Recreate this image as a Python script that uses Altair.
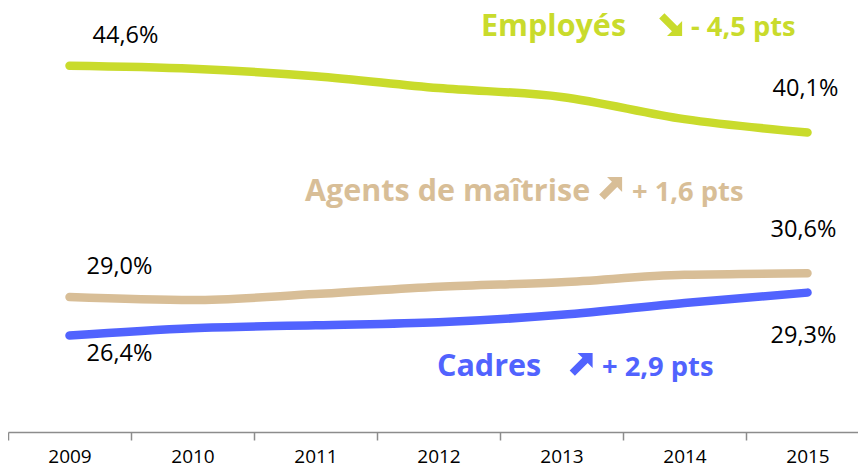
import altair as alt
import pandas as pd

# ---- data ----
years = ["2009", "2010", "2011", "2012", "2013", "2014", "2015"]
employes = [44.6, 44.4, 43.9, 43.1, 42.5, 41.0, 40.1]
agents = [29.0, 28.8, 29.2, 29.7, 30.0, 30.5, 30.6]
cadres = [26.4, 26.9, 27.1, 27.3, 27.8, 28.6, 29.3]
series_names = ["Employés", "Agents de maîtrise", "Cadres"]
changes = ["- 4,5 pts", "+ 1,6 pts", "+ 2,9 pts"]
colors = ["#C9DB2C", "#D8BE97", "#5163FE"]

rows = []
for name, vals in zip(series_names, [employes, agents, cadres]):
    for yr, v in zip(years, vals):
        rows.append({"year": yr, "value": v, "series": name})
df = pd.DataFrame(rows)
df["label"] = df["value"].map(lambda v: f"{v:.1f}".replace(".", ",") + "%")

W, H = 850, 414
FONT = "Open Sans"

xscale = alt.Scale(type="band", domain=years, range=[0, 861],
                   paddingInner=0, paddingOuter=0)
yscale = alt.Scale(domain=[19.898, 47.824], nice=False, zero=False)

x_enc = alt.X(
    "year:N",
    scale=xscale,
    bandPosition=0.5,
    title=None,
    axis=alt.Axis(
        labelAngle=0,
        tickBand="extent",
        domainColor="#8C8C8C",
        tickColor="#8C8C8C",
        domainWidth=1.5,
        tickWidth=1.5,
        tickSize=8,
        labelFont=FONT,
        labelFontSize=19,
        labelColor="black",
        labelPadding=7,
        grid=False,
    ),
)
y_enc = alt.Y("value:Q", scale=yscale, axis=None)
color_enc = alt.Color(
    "series:N", scale=alt.Scale(domain=series_names, range=colors), legend=None
)

base = alt.Chart(df)

lines = base.mark_line(
    strokeWidth=8.5, strokeCap="round", strokeJoin="round", interpolate="monotone"
).encode(x=x_enc, y=y_enc, color=color_enc)

layers = [lines]

# value labels (offsets are styling)
label_offsets = [
    ("Employés", "2009", 56, -30),
    ("Employés", "2015", -2, -44),
    ("Agents de maîtrise", "2009", 50, -30),
    ("Agents de maîtrise", "2015", -4, -43),
    ("Cadres", "2009", 50, 18),
    ("Cadres", "2015", -4, 43),
]
for s, yr, dx, dy in label_offsets:
    layers.append(
        base.transform_filter((alt.datum.series == s) & (alt.datum.year == yr))
        .mark_text(dx=dx, dy=dy, font=FONT, fontSize=23.5, color="black",
                   baseline="middle", align="center")
        .encode(x=x_enc, y=y_enc, text="label:N")
    )

# series annotations (pixel placement of the in-plot legend)
UP_RIGHT = ("M1,-1 L1,0.3 L0.576,-0.124 L-0.524,0.976 L-0.976,0.524 "
            "L0.124,-0.576 L-0.3,-1 Z")
ann_pos = [
    # name_x, baseline_y, arrow_x, arrow_y, arrow_angle, change_x
    (473, 18, 662.5, 6.5, 90, 683),
    (297, 182.7, 602.5, 170.5, 0, 624),
    (429, 357.7, 573, 346.5, 0, 594),
]
for name, chg, col, (nx, by, ax, ay, ang, cx) in zip(series_names, changes, colors, ann_pos):
    sel = base.transform_filter(alt.datum.year == "2009").transform_filter(
        alt.datum.series == name)
    layers.append(
        sel.mark_text(font=FONT, fontSize=30.5, fontWeight="bold", align="left",
                      baseline="alphabetic", color=col)
        .encode(x=alt.value(nx), y=alt.value(by), text=alt.value(name))
    )
    layers.append(
        sel.mark_point(shape=UP_RIGHT, filled=True, size=540, opacity=1,
                       strokeWidth=0, angle=ang, color=col)
        .encode(x=alt.value(ax), y=alt.value(ay))
    )
    layers.append(
        sel.mark_text(font=FONT, fontSize=27.3, fontWeight="bold", align="left",
                      baseline="alphabetic", color=col)
        .encode(x=alt.value(cx), y=alt.value(by), text=alt.value(chg))
    )

chart = (
    alt.layer(*layers)
    .properties(
        width=W,
        height=H,
        padding={"left": 0, "top": 10, "right": 0, "bottom": 34},
        autosize=alt.AutoSizeParams(type="none"),
        background="white",
    )
    .configure_view(stroke=None)
)

chart.save("out.html", embed_options={"renderer": "svg", "actions": False})
